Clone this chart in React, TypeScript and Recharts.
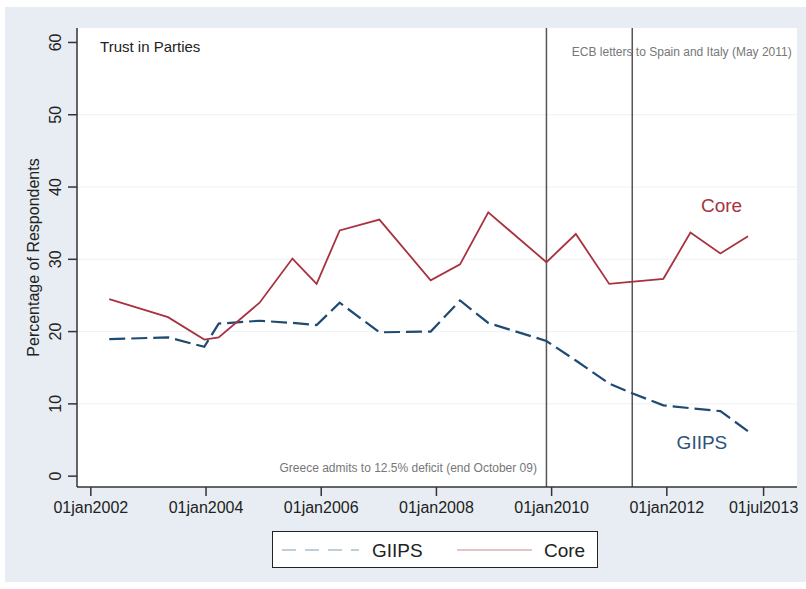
import { LineChart, Line, XAxis, YAxis, CartesianGrid, ReferenceLine, ReferenceDot } from 'recharts';

const FONT = '"Liberation Sans", Arial, Helvetica, sans-serif';

// survey dates as decimal years
const dates = [
  2002.32, 2003.34, 2003.97, 2004.22, 2004.93, 2005.5, 2005.92, 2006.32, 2007.01, 2007.9,
  2008.41, 2008.9, 2009.91, 2010.42, 2011.0, 2011.42, 2011.94, 2012.41, 2012.93, 2013.41,
];
const coreValues = [
  24.5, 22.0, 18.9, 19.2, 24.0, 30.1, 26.6, 34.0, 35.5, 27.1,
  29.3, 36.5, 29.6, 33.5, 26.6, 26.9, 27.3, 33.7, 30.8, 33.2,
];
const giipsValues = [
  18.95, 19.2, 17.9, 21.1, 21.5, 21.2, 20.9, 24.0, 19.9, 20.0,
  24.3, 21.2, 18.7, 16.0, 12.8, 11.4, 9.8, 9.4, 9.0, 6.2,
];

const xTicks = [2002, 2004, 2006, 2008, 2010, 2012, 2013.68];
const xTickLabels = ['01jan2002', '01jan2004', '01jan2006', '01jan2008', '01jan2010', '01jan2012', '01jul2013'];
const yTicks = [0, 10, 20, 30, 40, 50, 60];
const gridValues = [10, 20, 30, 40, 50];
const eventDates = [2009.91, 2011.4];

const CORE = '#a8323f';
const GIIPS = '#1f4a72';

const data = dates.map((d, i) => ({ date: d, core: coreValues[i], giips: giipsValues[i] }));

const YTick = ({ x, y, payload }: any) => (
  <g transform={`translate(${x - 11},${y}) rotate(-90)`}>
    <text textAnchor="middle" dy="0.36em" fontSize={16} fill="#222" fontFamily={FONT}>
      {payload.value}
    </text>
  </g>
);

const textShape = (text: string, color: string, size: number, anchor: 'start' | 'middle' | 'end') =>
  (p: any) => (
    <text
      x={p.cx}
      y={p.cy}
      dy="0.35em"
      textAnchor={anchor}
      fontSize={size}
      fill={color}
      fontFamily={FONT}
    >
      {text}
    </text>
  );

export default function App() {
  return (
    <div style={{ position: 'absolute', left: 0, top: 0, width: 806, height: 589, background: '#fff' }}>
      <div style={{ position: 'absolute', left: 5, top: 7, width: 801, height: 575, background: '#e7edf2' }} />
      <div style={{ position: 'absolute', left: 0, top: 0 }}>
        <LineChart width={806} height={589} data={data} margin={{ top: 28, right: 9, left: 37, bottom: 72 }}>
          <CartesianGrid
            fill="#ffffff"
            vertical={false}
            stroke="#edf1f4"
            horizontalValues={gridValues}
          />
          <XAxis
            dataKey="date"
            type="number"
            domain={[2001.76, 2014.26]}
            ticks={xTicks}
            allowDataOverflow
            tickFormatter={(v: number) => xTickLabels[xTicks.indexOf(v)]}
            tick={{ fontSize: 16, fill: '#222', fontFamily: FONT }}
            tickSize={9}
            tickMargin={6}
            height={30}
            stroke="#333"
            strokeWidth={1.5}
            interval={0}
          />
          <YAxis
            type="number"
            domain={[-1.5, 62]}
            ticks={yTicks}
            allowDataOverflow
            tick={<YTick />}
            tickSize={9}
            tickMargin={2}
            width={40}
            stroke="#333"
            strokeWidth={1.5}
            interval={0}
            label={{
              content: (props: any) => {
                const vb = props.viewBox || { x: 37, y: 28, height: 459 };
                const cx = vb.x - 4;
                const cy = vb.y + vb.height / 2;
                return (
                  <text
                    transform={`translate(${cx},${cy}) rotate(-90)`}
                    textAnchor="middle"
                    dy="0.35em"
                    fontSize={16}
                    fill="#222"
                    fontFamily={FONT}
                  >
                    Percentage of Respondents
                  </text>
                );
              },
            }}
          />
          {eventDates.map((d) => (
            <ReferenceLine key={d} x={d} stroke="#555" strokeWidth={1.5} />
          ))}
          <Line
            type="linear"
            dataKey="giips"
            stroke={GIIPS}
            strokeWidth={2.2}
            strokeDasharray="16 6"
            dot={false}
            isAnimationActive={false}
          />
          <Line
            type="linear"
            dataKey="core"
            stroke={CORE}
            strokeWidth={1.8}
            dot={false}
            isAnimationActive={false}
          />
          <ReferenceDot x={2002.16} y={59.37} r={0} shape={textShape('Trust in Parties', '#222', 15, 'start')} />
          <ReferenceDot x={2012.26} y={58.7} r={0} shape={textShape('ECB letters to Spain and Italy (May 2011)', '#777', 12, 'middle')} />
          <ReferenceDot x={2007.51} y={1.13} r={0} shape={textShape('Greece admits to 12.5% deficit (end October 09)', '#777', 12, 'middle')} />
          <ReferenceDot x={2012.95} y={37.5} r={0} shape={textShape('Core', CORE, 19, 'middle')} />
          <ReferenceDot x={2012.61} y={4.73} r={0} shape={textShape('GIIPS', '#2b5479', 19, 'middle')} />
        </LineChart>
      </div>
      <div
        style={{
          position: 'absolute',
          left: 272,
          top: 531,
          width: 324,
          height: 35,
          border: '1.5px solid #222',
          background: '#fff',
          fontFamily: FONT,
        }}
      >
        <svg width={324} height={35} style={{ display: 'block' }}>
          <line x1={9} y1={18} x2={86} y2={18} stroke="#7f9db8" strokeWidth={1.2} strokeDasharray="14 9" />
          <text x={99} y={18} dy="0.35em" fontSize={19} fill="#222" fontFamily={FONT}>GIIPS</text>
          <line x1={184} y1={18} x2={259} y2={18} stroke="#c98a90" strokeWidth={1.2} />
          <text x={271} y={18} dy="0.35em" fontSize={19} fill="#222" fontFamily={FONT}>Core</text>
        </svg>
      </div>
    </div>
  );
}
